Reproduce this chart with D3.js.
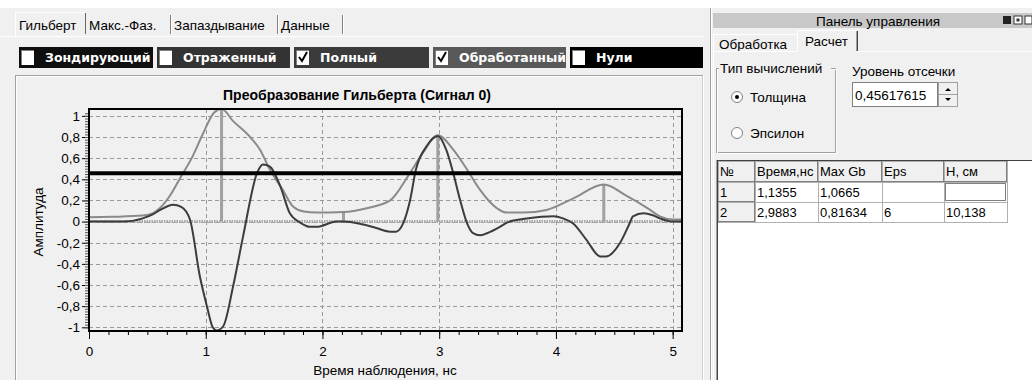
<!DOCTYPE html>
<html><head><meta charset="utf-8">
<script src="https://cdn.jsdelivr.net/npm/d3@7"></script>
<style>body{margin:0;background:#f0f0f0;} svg{display:block;font-family:"Liberation Sans",Arial,sans-serif;}</style>
</head><body><svg id="c" width="1032" height="380"></svg>
<script>
// ---------- data ----------
const tabs = ["Гильберт", "Макс.-Фаз.", "Запаздывание", "Данные"];
const legendItems = ["Зондирующий", "Отраженный", "Полный", "Обработанный", "Нули"];
const legendChecked = [false, false, true, true, false];
const chartTitle = "Преобразование Гильберта (Сигнал 0)";
const xTitle = "Время наблюдения, нс";
const yTitle = "Амплитуда";
const xTicks = [0, 1, 2, 3, 4, 5];
const yTicks = [-1, -0.8, -0.6, -0.4, -0.2, 0, 0.2, 0.4, 0.6, 0.8, 1];
const envT = [0,0.2,0.46,0.55,0.61,0.69,0.79,0.88,0.98,1.07,1.1355,1.235,1.38,1.465,1.55,1.66,1.75,1.84,1.95,2.18,2.38,2.58,2.75,2.86,2.9883,3.12,3.24,3.35,3.49,3.58,3.72,3.92,4.15,4.41,4.61,4.78,4.89,5.0,5.08];
const envV = [0.04,0.045,0.057,0.08,0.13,0.24,0.43,0.6,0.84,1.03,1.0665,0.95,0.80,0.68,0.49,0.30,0.14,0.095,0.085,0.09,0.127,0.2,0.46,0.65,0.81634,0.68,0.49,0.30,0.13,0.085,0.085,0.11,0.22,0.35,0.24,0.13,0.05,0.02,0.02];
const procT = [0,0.3,0.46,0.55,0.61,0.72,0.79,0.865,0.95,1.01,1.06,1.095,1.15,1.235,1.32,1.44,1.49,1.55,1.64,1.72,1.81,1.89,1.95,2.12,2.18,2.32,2.46,2.58,2.63,2.69,2.75,2.80,2.89,2.99,3.06,3.12,3.18,3.24,3.29,3.35,3.41,3.52,3.58,3.66,3.75,3.98,4.06,4.15,4.26,4.38,4.43,4.55,4.63,4.66,4.75,4.83,4.89,5.0,5.08];
const procV = [0,0,0.03,0.07,0.11,0.16,0.14,0.02,-0.52,-0.80,-1.0,-1.03,-0.99,-0.61,-0.14,0.46,0.54,0.52,0.33,0.08,-0.01,-0.05,-0.05,0,0,-0.02,-0.06,-0.095,-0.095,-0.02,0.2,0.49,0.71,0.81,0.68,0.46,0.2,-0.02,-0.11,-0.13,-0.11,-0.05,-0.01,0.015,0.03,0.05,0.03,-0.02,-0.17,-0.33,-0.33,-0.2,-0.02,0.05,0.08,0.06,0.03,0,0];
const markerT = [1.1355, 2.18, 2.9883, 4.41];
const markerV = [1.0665, 0.09, 0.81634, 0.35];
const cutLevel = 0.45617615;
const cutLevelText = "0,45617615";
const panelTitle = "Панель управления";
const panelTabs = ["Обработка", "Расчет"];
const groupTitle = "Тип вычислений";
const radioItems = ["Толщина", "Эпсилон"];
const levelLabel = "Уровень отсечки";
const tableHead = ["№", "Время,нс", "Max Gb", "Eps", "H, см"];
const tableRows = [["1", "1,1355", "1,0665", "", ""], ["2", "2,9883", "0,81634", "6", "10,138"]];

// ---------- setup ----------
const svg = d3.select("#c");
const BG = "#f0f0f0";
const FS = 13.5;
const line = (x1,y1,x2,y2,c,w=1,extra) => { const l = svg.append("line").attr("x1",x1).attr("y1",y1).attr("x2",x2).attr("y2",y2).attr("stroke",c).attr("stroke-width",w).attr("shape-rendering","crispEdges"); if (extra) l.attr("stroke-dasharray",extra); return l; };
const text = (x,y,s,opt={}) => svg.append("text").attr("x",x).attr("y",y).text(s)
  .attr("font-size",opt.size||FS).attr("fill",opt.fill||"#000").attr("font-weight",opt.weight||"normal")
  .attr("text-anchor",opt.anchor||"start").attr("font-family",opt.family||null).attr("letter-spacing",opt.ls||null);

svg.append("rect").attr("width",1032).attr("height",380).attr("fill",BG);
svg.append("rect").attr("width",1032).attr("height",8).attr("fill","#fff");

// ---------- left tabs ----------
const tabEdges = [15, 85, 170, 277, 342];
svg.append("rect").attr("x",15).attr("y",12).attr("width",70).attr("height",24).attr("fill",BG);
line(15,12,85,12,"#fff"); line(15,12,15,36,"#fff"); line(85,13,85,34,"#696969");
tabs.forEach((t,i)=>{
  text(tabEdges[i]+4, 30, t);
  if (i>0) { line(tabEdges[i+1],15,tabEdges[i+1],34,"#808080"); line(tabEdges[i+1]+1,15,tabEdges[i+1]+1,34,"#fff"); }
});
line(0,36,703,36,"#fff");

// ---------- legend checkboxes ----------
const legEdges = [19, 157, 294, 433, 570, 703];
const legFill = ["#0f0f0f", "#333333", "#3b3b3b", "#595959", "#000000"];
legendItems.forEach((t,i)=>{
  const x0 = legEdges[i], x1 = legEdges[i+1] - (i<4 ? 4 : 0);
  svg.append("rect").attr("x",x0).attr("y",47).attr("width",x1-x0).attr("height",21).attr("fill",legFill[i]);
  svg.append("rect").attr("x",x0+2).attr("y",50).attr("width",13).attr("height",15).attr("fill","#fff");
  line(x0+2,50,x0+15,50,"#808080"); line(x0+2,50,x0+2,65,"#808080");
  if (legendChecked[i]) svg.append("path").attr("d",`M${x0+5},${57} L${x0+8},${61} L${x0+13},${52}`).attr("fill","none").attr("stroke","#000").attr("stroke-width",2);
  text(x0+26, 62, t, {fill:"#fff", weight:"bold", family:'"DejaVu Sans",sans-serif', size:12.5});
});

// ---------- chart panel frame ----------
line(15,75,703,75,"#a0a0a0"); line(16,76,702,76,"#fff");
line(15,75,15,380,"#a0a0a0"); line(16,76,16,380,"#fff");
line(703,75,703,380,"#fff"); line(702,76,702,380,"#d0d0d0");

// ---------- chart ----------
const x = d3.scaleLinear().domain([0, 5.08]).range([89, 682]);
const y = d3.scaleLinear().domain([-1.035, 1.065]).range([331, 109]);
const loc = d3.formatLocale({decimal:",", thousands:" ", grouping:[3], currency:["",""], minus:"-"});
const fmt = loc.format(".1~f");

svg.append("clipPath").attr("id","clip").append("rect").attr("x",89).attr("y",109).attr("width",593).attr("height",222);
const plot = svg.append("g").attr("clip-path","url(#clip)");

// grid
yTicks.forEach(v=>{ plot.append("line").attr("x1",89).attr("x2",682).attr("y1",Math.round(y(v))+0.5).attr("y2",Math.round(y(v))+0.5).attr("stroke","#9a9a9a").attr("stroke-dasharray","4,3"); });
xTicks.forEach(v=>{ plot.append("line").attr("y1",109).attr("y2",331).attr("x1",Math.round(x(v))+0.5).attr("x2",Math.round(x(v))+0.5).attr("stroke","#9a9a9a").attr("stroke-dasharray","4,3"); });

// zero line (Нули)
plot.append("line").attr("x1",89).attr("x2",682).attr("y1",y(0)).attr("y2",y(0)).attr("stroke","#a8a8a8").attr("stroke-width",3).attr("stroke-dasharray","1.5,1");

// markers
markerT.forEach((t,i)=>{ plot.append("line").attr("x1",x(t)).attr("x2",x(t)).attr("y1",y(0)).attr("y2",y(markerV[i])).attr("stroke","#a0a0a0").attr("stroke-width",3); });

const lg = d3.line().x(d=>x(d[0])).y(d=>y(d[1])).curve(d3.curveMonotoneX);
plot.append("path").datum(envT.map((t,i)=>[t,envV[i]])).attr("d",lg).attr("fill","none").attr("stroke","#8a8a8a").attr("stroke-width",2);
plot.append("path").datum(procT.map((t,i)=>[t,procV[i]])).attr("d",lg).attr("fill","none").attr("stroke","#3c3c3c").attr("stroke-width",2);

// cut level
plot.append("line").attr("x1",89).attr("x2",682).attr("y1",y(cutLevel)).attr("y2",y(cutLevel)).attr("stroke","#000").attr("stroke-width",4);

// frame
svg.append("rect").attr("x",89).attr("y",109).attr("width",593).attr("height",222).attr("fill","none").attr("stroke","#000").attr("stroke-width",2);

// y axis
const yAxis = d3.axisLeft(y).tickValues(yTicks).tickFormat(fmt).tickSize(6).tickPadding(2);
const ya = svg.append("g").attr("transform","translate(88,0)").call(yAxis);
ya.select(".domain").remove();
ya.selectAll("text").attr("font-size",FS).attr("font-family",'"Liberation Sans",Arial,sans-serif').attr("fill","#000");
ya.selectAll("line").attr("stroke","#000");
const yMinor = d3.range(-1.0, 1.05, 0.025);
svg.append("g").attr("transform","translate(88,0)").call(d3.axisLeft(y).tickValues(yMinor).tickSize(3).tickFormat(""))
  .call(g=>{g.select(".domain").remove(); g.selectAll("line").attr("stroke","#555");});

// x axis
const xa = svg.append("g").attr("transform","translate(0,331)").call(d3.axisBottom(x).tickValues(xTicks).tickFormat(fmt).tickSize(8).tickPadding(7));
xa.select(".domain").remove();
xa.selectAll("text").attr("font-size",FS).attr("font-family",'"Liberation Sans",Arial,sans-serif').attr("fill","#000");
xa.selectAll("line").attr("stroke","#000");
const xMinor = d3.range(0, 5.05, 1/6);
svg.append("g").attr("transform","translate(0,331)").call(d3.axisBottom(x).tickValues(xMinor).tickSize(4).tickFormat(""))
  .call(g=>{g.select(".domain").remove(); g.selectAll("line").attr("stroke","#000");});

text(357, 100, chartTitle, {weight:"bold", anchor:"middle", size:14});
text(385, 375, xTitle, {anchor:"middle"});
text(0, 0, yTitle, {anchor:"middle"}).attr("transform","translate(43,222) rotate(-90)");

// ---------- right panel ----------
line(710,8,710,380,"#a0a0a0"); line(711,8,711,380,"#fff");
svg.append("rect").attr("x",713).attr("y",13).attr("width",319).attr("height",15).attr("fill","#c8c8c8");
text(878, 26, panelTitle, {anchor:"middle"});
svg.append("rect").attr("x",1003).attr("y",16).attr("width",8).attr("height",8).attr("fill","#222");
svg.append("rect").attr("x",1014).attr("y",16).attr("width",8).attr("height",8).attr("fill","#fff").attr("stroke","#333");
svg.append("rect").attr("x",1016.5).attr("y",18.5).attr("width",3).attr("height",3).attr("fill","#333");
svg.append("rect").attr("x",1025).attr("y",16).attr("width",7).attr("height",8).attr("fill","#fff").attr("stroke","#333");

// panel tabs
line(713,34,797,34,"#fff"); line(713,34,713,51,"#fff");
text(719, 49, panelTabs[0]);
svg.append("rect").attr("x",797).attr("y",30).attr("width",60).attr("height",22).attr("fill",BG);
line(797,30,857,30,"#fff"); line(797,30,797,51,"#fff"); line(857,31,857,51,"#404040"); line(856,31,856,51,"#a0a0a0");
text(805, 46, panelTabs[1]);
line(713,51,797,51,"#fff"); line(857,51,1032,51,"#fff");
line(713,51,713,380,"#fff");

// group box
svg.append("rect").attr("x",716.5).attr("y",68.5).attr("width",119).attr("height",84).attr("fill","none").attr("stroke","#a0a0a0");
svg.append("rect").attr("x",717.5).attr("y",69.5).attr("width",119).attr("height",84).attr("fill","none").attr("stroke","#fff");
svg.append("rect").attr("x",719).attr("y",62).attr("width",112).attr("height",12).attr("fill",BG);
text(720, 73, groupTitle);
radioItems.forEach((r,i)=>{
  const cy = i===0 ? 97 : 133;
  svg.append("circle").attr("cx",737).attr("cy",cy).attr("r",5.5).attr("fill","#fff").attr("stroke","#808080");
  if (i===0) svg.append("circle").attr("cx",737).attr("cy",cy).attr("r",2).attr("fill","#000");
  text(750, cy+5, r);
});
text(852, 76, levelLabel);
svg.append("rect").attr("x",852.5).attr("y",82.5).attr("width",85).attr("height",24).attr("fill","#fff").attr("stroke","#808080");
text(855, 100, cutLevelText);
svg.append("rect").attr("x",938.5).attr("y",82.5).attr("width",19).attr("height",24).attr("fill",BG).attr("stroke","#a0a0a0");
line(938,94.5,958,94.5,"#a0a0a0");
svg.append("path").attr("d","M945,91 L948,88 L951,91 Z").attr("fill","#000");
svg.append("path").attr("d","M945,98 L948,101 L951,98 Z").attr("fill","#000");

// table
svg.append("rect").attr("x",717).attr("y",160).attr("width",315).attr("height",220).attr("fill","#fff");
line(717,160,717,380,"#404040"); line(716,160,716,380,"#a0a0a0");
line(717,160,1032,160,"#404040");
const colEdges = [718, 755, 818, 882, 944, 1007];
const rowEdges = [161, 182, 202, 222];
for (let r=0; r<3; r++) for (let c=0; c<5; c++) {
  const header = r===0 || c===0;
  svg.append("rect").attr("x",colEdges[c]).attr("y",rowEdges[r]).attr("width",colEdges[c+1]-colEdges[c]).attr("height",rowEdges[r+1]-rowEdges[r])
    .attr("fill", header ? BG : "#fff").attr("stroke", "#b0b0b0").attr("shape-rendering","crispEdges");
  if (header) { line(colEdges[c+1]-1, rowEdges[r], colEdges[c+1]-1, rowEdges[r+1], "#808080"); line(colEdges[c], rowEdges[r+1]-1, colEdges[c+1], rowEdges[r+1]-1, "#808080"); }
  const s = r===0 ? tableHead[c] : tableRows[r-1][c];
  svg.append("clipPath").attr("id",`cc${r}_${c}`).append("rect").attr("x",colEdges[c]).attr("y",rowEdges[r]).attr("width",colEdges[c+1]-colEdges[c]-1).attr("height",20);
  text(colEdges[c]+2, rowEdges[r]+15, s, {size:13}).attr("clip-path",`url(#cc${r}_${c})`);
}
svg.append("rect").attr("x",945.5).attr("y",183.5).attr("width",60).attr("height",17).attr("fill","none").attr("stroke","#000").attr("stroke-dasharray","1,1");
</script></body></html>
